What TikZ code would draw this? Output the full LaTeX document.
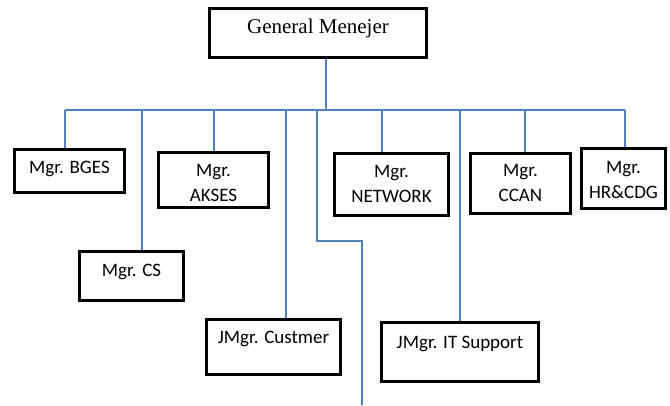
\documentclass[tikz,border=0pt]{standalone}
\usepackage{fontspec}
\setmainfont{Liberation Serif}
\newfontfamily\calfont{Carlito}
\definecolor{connblue}{RGB}{79,129,189}
\begin{document}
\begin{tikzpicture}[x=1pt,y=-1pt,
  box/.style={draw=black, line width=2.6pt, inner sep=0pt},
  mtext/.style={anchor=base, inner sep=0pt, align=center, font=\calfont\fontsize{19}{25}\selectfont},
  gmtext/.style={anchor=base, inner sep=0pt, font=\fontsize{21}{24}\selectfont},
  conn/.style={draw=connblue, line width=1.4pt}]
\useasboundingbox (0,0) rectangle (670,405);
% boxes
\node[box, minimum width=217pt, minimum height=49pt] (gm) at (318,33) {};
\node[box, minimum width=110pt, minimum height=43pt] (bges) at (69.5,171) {};
\node[box, minimum width=110pt, minimum height=55pt] (akses) at (213.5,180) {};
\node[box, minimum width=114pt, minimum height=62pt] (net) at (391.5,184.5) {};
\node[box, minimum width=100pt, minimum height=60pt] (ccan) at (520.5,183.5) {};
\node[box, minimum width=84pt, minimum height=60pt] (hr) at (623.5,178.5) {};
\node[box, minimum width=104pt, minimum height=49pt] (cs) at (131.5,276) {};
\node[box, minimum width=134pt, minimum height=55pt] (cust) at (273.5,347) {};
\node[box, minimum width=157pt, minimum height=59pt] (its) at (460,352) {};
% texts
\node[gmtext] (gmt) at (318,33) {General Menejer};
\node[mtext] (bgest) at (69.5,173) {Mgr. BGES};
\node[mtext] (aksest) at (213.5,201) {Mgr.\\AKSES};
\node[mtext] (nett) at (391.5,202) {Mgr.\\NETWORK};
\node[mtext] (ccant) at (520.5,201) {Mgr.\\CCAN};
\node[mtext] (hrt) at (623.5,198) {Mgr.\\HR\&CDG};
\node[mtext] (cst) at (131.5,276) {Mgr. CS};
\node[mtext] (custt) at (273.5,343) {JMgr. Custmer};
\node[mtext] (itst) at (460,348) {JMgr. IT Support};
% connectors
\coordinate (bus) at (326,110);
\coordinate (busL) at (65,110);
\coordinate (busR) at (625,110);
\coordinate (dCS) at (142,110);
\coordinate (dAK) at (214,110);
\coordinate (dCU) at (286,110);
\coordinate (dNE) at (382,110);
\coordinate (dIT) at (460,110);
\coordinate (dCC) at (525,110);
\coordinate (lp1) at (317,110);
\coordinate (lp2) at (317,241);
\coordinate (lp3) at (362,241);
\coordinate (lp4) at (362,405);
\draw[conn] (gm.south -| bus) -- (bus);
\draw[conn] (busL) -- (busR);
\draw[conn] (busL) -- (bges.north -| busL);
\draw[conn] (dCS) -- (cs.north -| dCS);
\draw[conn] (dAK) -- (akses.north -| dAK);
\draw[conn] (dCU) -- (cust.north -| dCU);
\draw[conn] (dNE) -- (net.north -| dNE);
\draw[conn] (dIT) -- (its.north -| dIT);
\draw[conn] (dCC) -- (ccan.north -| dCC);
\draw[conn] (busR) -- (hr.north -| busR);
\draw[conn] (lp1) -- (lp2) -- (lp3) -- (lp4);
\end{tikzpicture}
\end{document}
